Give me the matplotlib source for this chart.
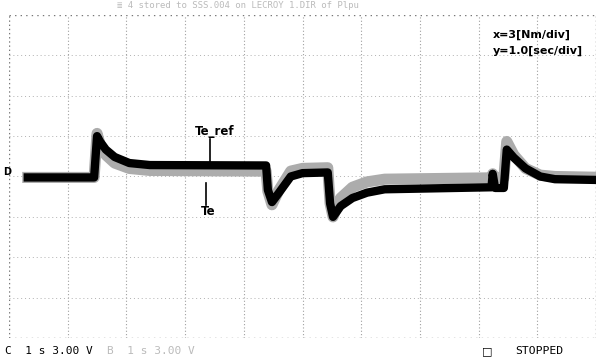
import numpy as np
import matplotlib
matplotlib.use('Agg')
import matplotlib.pyplot as plt

# time [s] and torque [Nm] (3 Nm/div, 1 s/div)
t_te = [0.32, 1.45, 1.50, 1.55, 1.65, 1.80, 2.05, 2.40, 4.38, 4.41, 4.48, 4.60,
        4.80, 5.00, 5.43, 5.47, 5.52, 5.65, 5.85, 6.10, 6.40, 8.22, 8.24, 8.28,
        8.43, 8.48, 8.60, 8.80, 9.05, 9.30, 9.93]
te = [-0.07, -0.07, 3.00, 2.60, 2.00, 1.45, 1.00, 0.85, 0.82, -1.00, -1.90, -1.20,
      0.00, 0.25, 0.30, -2.00, -3.00, -2.20, -1.60, -1.20, -0.95, -0.80, 0.20, -0.85,
      -0.85, 2.00, 1.40, 0.60, 0.00, -0.20, -0.25]

t_ref = [0.32, 1.45, 1.50, 1.55, 1.65, 1.80, 2.05, 2.40, 4.38, 4.41, 4.48, 4.60,
         4.80, 5.00, 5.43, 5.47, 5.52, 5.65, 5.85, 6.10, 6.40, 8.22, 8.24, 8.28,
         8.43, 8.48, 8.60, 8.80, 9.05, 9.30, 9.93]
te_ref = [-0.07, -0.07, 3.20, 2.40, 1.60, 1.00, 0.60, 0.45, 0.40, -1.10, -2.10, -1.00,
          0.40, 0.60, 0.65, -2.00, -3.00, -1.60, -0.80, -0.40, -0.20, -0.10, 0.20, -0.10,
          -0.10, 2.60, 1.60, 0.60, 0.10, 0.00, -0.05]

nm_per_div = 3.0
sec_per_div = 1.0

fig = plt.figure(figsize=(5.97, 3.58), dpi=100)
fig.patch.set_facecolor('white')
ax = fig.add_axes([9 / 597, 1 - 338 / 358, 587 / 597, 323 / 358])
ax.set_xlim(0, 10 * sec_per_div)
ax.set_ylim(-4 * nm_per_div, 4 * nm_per_div)
ax.set_xticks([])
ax.set_yticks([])
for s in ax.spines.values():
    s.set_visible(False)

# graticule
for i in range(11):
    edge = i in (0, 10)
    ax.axvline(i * sec_per_div, color='#777777' if edge else '#a0a0a0',
               lw=1.0 if edge else 0.8, ls=(0, (1, 2)), zorder=0)
for j in range(-4, 5):
    edge = j in (-4, 4)
    ax.axhline(j * nm_per_div, color='#777777' if edge else '#b0b0b0',
               lw=1.0 if edge else 0.7, ls=(0, (1, 3)), zorder=0)

# traces: noisy reference (grey) and actual torque (black)
ax.plot(t_ref, te_ref, color='#acacac', lw=8, solid_joinstyle='round', zorder=2)
ax.plot(t_te, te, color='black', lw=6, solid_joinstyle='round', zorder=3)

# labels with pointer lines
ax.text(3.51, 2.85, 'Te_ref', fontsize=8.5, fontweight='bold', ha='center', va='bottom', zorder=5)
ax.plot([3.42, 3.42], [1.1, 2.75], color='black', lw=1.2, zorder=5)
ax.text(3.39, -2.1, 'Te', fontsize=8.5, fontweight='bold', ha='center', va='top', zorder=5)
ax.plot([3.36, 3.36], [-0.45, -2.1], color='black', lw=1.2, zorder=5)

ax.text(8.25, 10.55, 'x=3[Nm/div]', fontsize=8, fontweight='bold', va='center', zorder=5)
ax.text(8.25, 9.35, 'y=1.0[sec/div]', fontsize=8, fontweight='bold', va='center', zorder=5)

# scope annotations
fig.text(117 / 597, 1 - 5 / 358, '\u2263 4 stored to SSS.004 on LECROY 1.DIR of Plpu',
         fontsize=6.5, family='DejaVu Sans Mono', color='#bbbbbb', va='center')
fig.text(3 / 597, 1 - 172 / 358, 'D', fontsize=7, fontweight='bold', va='center')
fig.text(5 / 597, 1 - 351 / 358, 'C  1 s 3.00 V', fontsize=8,
         family='DejaVu Sans Mono', va='center')
fig.text(107 / 597, 1 - 351 / 358, 'B  1 s 3.00 V', fontsize=8,
         family='DejaVu Sans Mono', color='#bbbbbb', va='center')
fig.text(482 / 597, 1 - 351 / 358, '\u25a1', fontsize=8, va='center')
fig.text(515 / 597, 1 - 351 / 358, 'STOPPED', fontsize=8.2,
         family='DejaVu Sans Mono', va='center')

plt.savefig('out.png', dpi=100)
